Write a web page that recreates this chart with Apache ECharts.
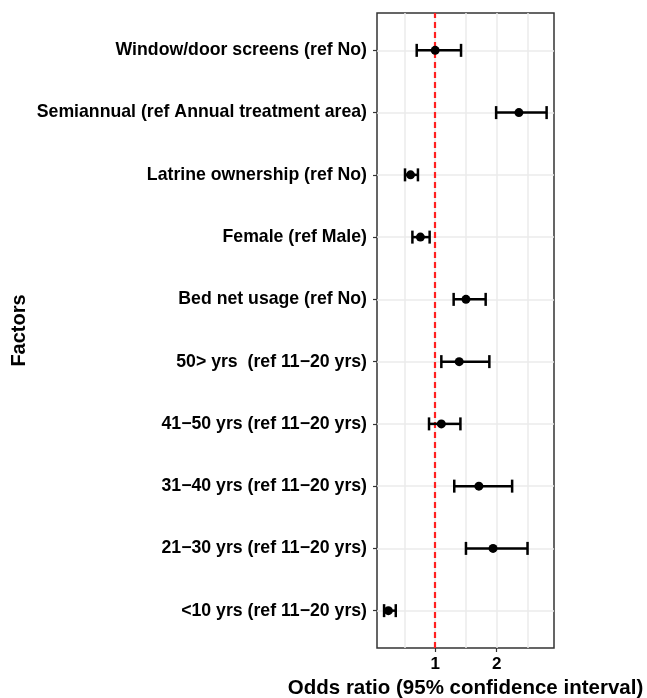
<!DOCTYPE html>
<html><head><meta charset="utf-8">
<script src="https://cdn.jsdelivr.net/npm/echarts@6/dist/echarts.min.js"></script>
<style>html,body{margin:0;padding:0;background:#fff}#c{width:647px;height:698px}</style>
</head><body><div id="c"></div>
<script>
// top to bottom
const factors = [
  'Window/door screens (ref No)',
  'Semiannual (ref Annual treatment area)',
  'Latrine ownership (ref No)',
  'Female (ref Male)',
  'Bed net usage (ref No)',
  '50> yrs  (ref 11\u221220 yrs)',
  '41\u221250 yrs (ref 11\u221220 yrs)',
  '31\u221240 yrs (ref 11\u221220 yrs)',
  '21\u221230 yrs (ref 11\u221220 yrs)',
  '<10 yrs (ref 11\u221220 yrs)'
];
const oddsRatio = [1.00, 2.36, 0.60, 0.76, 1.50, 1.39, 1.10, 1.71, 1.94, 0.24];
const lowerCI   = [0.70, 1.99, 0.51, 0.63, 1.30, 1.10, 0.90, 1.31, 1.50, 0.17];
const upperCI   = [1.42, 2.81, 0.72, 0.91, 1.82, 1.88, 1.41, 2.25, 2.50, 0.36];
const xTickLabels = [1, 2];
const xGridValues = [0.5, 1, 1.5, 2, 2.5];
const refValue = 1;

const n = factors.length;
const pos = factors.map((f, i) => n - i);
const barData = factors.map((f, i) => [lowerCI[i], upperCI[i], pos[i]]);
const pointData = factors.map((f, i) => [oddsRatio[i], pos[i]]);

const chart = echarts.init(document.getElementById('c'), null, {renderer: 'canvas'});
const FONT = 'Liberation Sans, Arial, Helvetica, sans-serif';
chart.setOption({
  animation: false,
  backgroundColor: '#fff',
  grid: {left: 377, right: 93, top: 13, bottom: 50, show: true, borderColor: '#333', borderWidth: 1.5, backgroundColor: 'transparent', outerBoundsMode: 'none', containLabel: false},
  xAxis: [{
    type: 'value', min: 0.055, max: 2.93,
    axisLine: {show: false},
    axisTick: {show: false, customValues: xGridValues},
    splitLine: {show: true, lineStyle: {color: '#ebebeb', width: 1.5}},
    axisLabel: {customValues: xTickLabels, color: '#000', fontWeight: 'bold', fontSize: 17, fontFamily: FONT, margin: 8},
    name: 'Odds ratio (95% confidence interval)', nameLocation: 'middle', nameGap: 30,
    nameTextStyle: {color: '#000', fontWeight: 'bold', fontSize: 20.5, fontFamily: FONT}
  }, {
    type: 'value', min: 0.055, max: 2.93, position: 'bottom',
    axisLine: {show: false},
    axisTick: {show: true, customValues: xTickLabels, length: 4, lineStyle: {color: '#333', width: 1.2}},
    axisLabel: {show: false}, splitLine: {show: false}
  }],
  yAxis: {
    type: 'value', min: 0.4, max: 10.6,
    axisLine: {show: false},
    axisTick: {show: true, customValues: pos, length: 4, lineStyle: {color: '#333', width: 1.2}},
    splitLine: {show: true, lineStyle: {color: '#ebebeb', width: 1.5}},
    axisLabel: {customValues: pos, formatter: v => factors[n - Math.round(v)], color: '#000', fontWeight: 'bold', fontSize: 17.7, fontFamily: FONT, margin: 10},
    name: 'Factors', nameLocation: 'middle', nameGap: 348, nameRotate: 90,
    nameTextStyle: {color: '#000', fontWeight: 'bold', fontSize: 20, fontFamily: FONT}
  },
  series: [{
    type: 'custom', z: 2,
    data: barData,
    encode: {x: [0, 1], y: 2},
    renderItem: function (params, api) {
      const y = api.value(2);
      const a = api.coord([api.value(0), y]);
      const b = api.coord([api.value(1), y]);
      const h = 6.5;
      const st = {stroke: '#000', lineWidth: 2.5};
      return {type: 'group', children: [
        {type: 'line', shape: {x1: a[0], y1: a[1], x2: b[0], y2: b[1]}, style: st},
        {type: 'line', shape: {x1: a[0], y1: a[1] - h, x2: a[0], y2: a[1] + h}, style: st},
        {type: 'line', shape: {x1: b[0], y1: b[1] - h, x2: b[0], y2: b[1] + h}, style: st}
      ]};
    },
    markLine: {
      silent: true, symbol: 'none', z: 1,
      label: {show: false},
      lineStyle: {color: '#ff2020', type: [6, 4], width: 2.2},
      data: [{xAxis: refValue}]
    }
  }, {
    type: 'scatter', z: 3,
    data: pointData,
    symbol: 'circle', symbolSize: 9,
    itemStyle: {color: '#000', opacity: 1}
  }]
});
</script></body></html>
